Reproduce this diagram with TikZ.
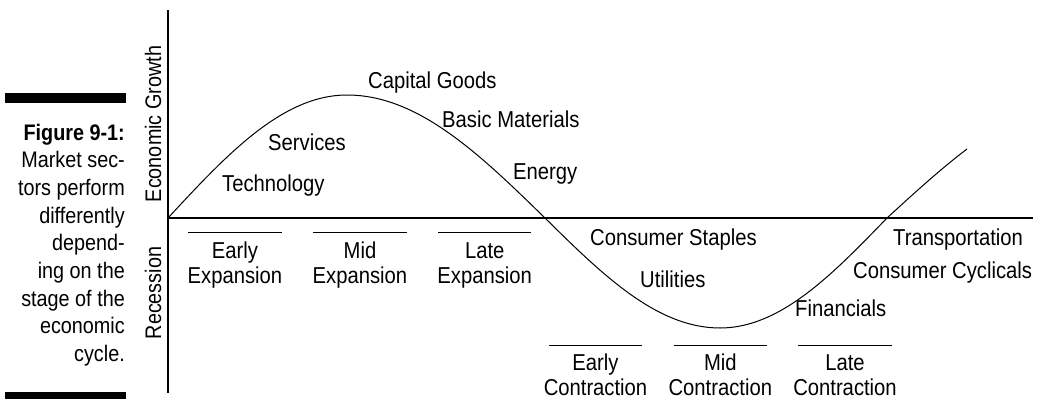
\documentclass[tikz,border=0pt]{standalone}
\usepackage{fontspec}
\setmainfont{Liberation Sans}[FakeStretch=0.88]
\begin{document}
\begin{tikzpicture}[x=1pt,y=-1pt,
  lbl/.style={anchor=base west, inner sep=0pt, font=\fontsize{23}{26}\selectfont},
  stage/.style={anchor=base, inner sep=0pt, font=\fontsize{23}{26}\selectfont},
  axlbl/.style={rotate=90, anchor=base, inner sep=0pt, font=\fontsize{22.5}{26}\selectfont},
  capline/.style={anchor=base east, inner sep=0pt, font=\fontsize{22.5}{27}\selectfont},
  axisline/.style={line width=2.3pt},
  curveline/.style={line width=1pt},
  stageline/.style={line width=1pt},
  barfill/.style={fill=black}]
\useasboundingbox (0,0) rectangle (1040,399);

% caption bars
\fill[barfill] (5,93) rectangle (126,103);
\fill[barfill] (5,392) rectangle (126,399);

% caption
\node[capline] (c1) at (125,140) {\textbf{Figure 9-1:}};
\node[capline] (c2) at (125,167.7) {Market sec-};
\node[capline] (c3) at (125,195.4) {tors perform};
\node[capline] (c4) at (125,223.1) {differently};
\node[capline] (c5) at (125,250.8) {depend-};
\node[capline] (c6) at (125,278.5) {ing on the};
\node[capline] (c7) at (125,306.2) {stage of the};
\node[capline] (c8) at (125,333.9) {economic};
\node[capline] (c9) at (125,361.6) {cycle.};

% axes
\coordinate (vtop) at (168,10);
\coordinate (vbot) at (168,393);
\coordinate (o) at (168,218);
\coordinate (hend) at (1033,218);
\draw[axisline] (vtop) -- (vbot);
\draw[axisline] (o) -- (hend);

\node[axlbl] (growth) at (161,124) {Economic Growth};
\node[axlbl] (recess) at (161,293) {Recession};

% cycle curve
\draw[curveline] (o) sin (347,95) cos (545,218) sin (720,328) cos (887,218)
  -- plot[domain=0:80,samples=30] ({887+\x},{218-123*sin(\x*90/211)});

% sector labels
\node[lbl] (tech) at (222,191.5) {Technology};
\node[lbl] (serv) at (268,150) {Services};
\node[lbl] (capg) at (368,88) {Capital Goods};
\node[lbl] (basic) at (442,127.7) {Basic Materials};
\node[lbl] (energy) at (513,179) {Energy};
\node[lbl] (staples) at (590,245.7) {Consumer Staples};
\node[lbl] (util) at (640,287.3) {Utilities};
\node[lbl] (fin) at (795,316.7) {Financials};
\node[lbl] (trans) at (893,245.7) {Transportation};
\node[lbl] (cycl) at (853,278.3) {Consumer Cyclicals};

% expansion stages
\coordinate (e1a) at (188.3,232); \coordinate (e1b) at (281.7,232);
\coordinate (e2a) at (313.3,232); \coordinate (e2b) at (406.7,232);
\coordinate (e3a) at (438.3,232); \coordinate (e3b) at (531,232);
\draw[stageline] (e1a) -- (e1b);
\draw[stageline] (e2a) -- (e2b);
\draw[stageline] (e3a) -- (e3b);
\node[stage] (ee1) at (235,258) {Early};
\node[stage] (ee2) at (235,283) {Expansion};
\node[stage] (me1) at (360,258) {Mid};
\node[stage] (me2) at (360,283) {Expansion};
\node[stage] (le1) at (484.7,258) {Late};
\node[stage] (le2) at (484.7,283) {Expansion};

% contraction stages
\coordinate (k1a) at (549.3,345.7); \coordinate (k1b) at (641.7,345.7);
\coordinate (k2a) at (674,345.7); \coordinate (k2b) at (766.7,345.7);
\coordinate (k3a) at (798.3,345.7); \coordinate (k3b) at (891.7,345.7);
\draw[stageline] (k1a) -- (k1b);
\draw[stageline] (k2a) -- (k2b);
\draw[stageline] (k3a) -- (k3b);
\node[stage] (ec1) at (595.5,370) {Early};
\node[stage] (ec2) at (595.5,395) {Contraction};
\node[stage] (mc1) at (720.3,370) {Mid};
\node[stage] (mc2) at (720.3,395) {Contraction};
\node[stage] (lc1) at (845,370) {Late};
\node[stage] (lc2) at (845,395) {Contraction};
\end{tikzpicture}
\end{document}
